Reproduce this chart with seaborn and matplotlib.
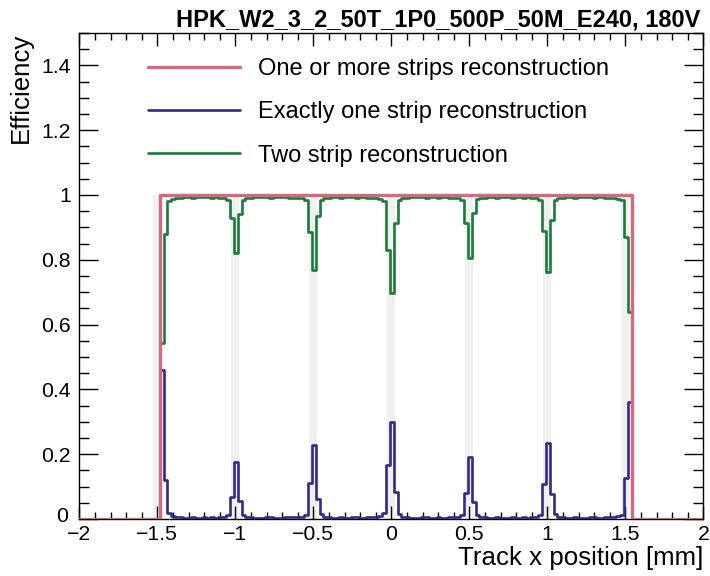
import numpy as np
import pandas as pd
import matplotlib
matplotlib.use("Agg")
import matplotlib.pyplot as plt
import matplotlib.transforms as mtransforms
import seaborn as sns
from matplotlib.ticker import MultipleLocator, FixedLocator, FixedFormatter

sns.set_theme(style="ticks")
plt.rcParams["font.family"] = ["Liberation Sans", "DejaVu Sans"]
plt.rcParams["text.color"] = "black"
plt.rcParams["axes.labelcolor"] = "black"
plt.rcParams["xtick.color"] = "black"
plt.rcParams["ytick.color"] = "black"

# ---------------- data ----------------
title = "HPK_W2_3_2_50T_1P0_500P_50M_E240, 180V"
x_label = "Track x position [mm]"
y_label = "Efficiency"
series_names = ["One or more strips reconstruction",
                "Exactly one strip reconstruction",
                "Two strip reconstruction"]

# histogram binning over the sensor (121 bins of 25 um), zero outside
range_min, range_max = -2.0, 2.0
bin_start = -1.485
bin_width = 0.025
n_bins = 121

# metal strip positions (grey bands) and width [mm]
strip_centers = [-1.5, -1.0, -0.5, 0.0, 0.5, 1.0, 1.5]
strip_width = 0.05

eff_any = [
    1.000, 1.000, 1.000, 0.999, 1.000, 1.000, 0.999, 1.000, 1.000, 1.000,
    1.000, 0.999, 1.000, 1.000, 1.000, 1.000, 0.999, 1.000, 1.000, 1.000,
    1.000, 1.000, 0.999, 1.000, 1.000, 1.000, 1.000, 0.999, 1.000, 1.000,
    1.000, 1.000, 1.000, 0.999, 1.000, 1.000, 1.000, 1.000, 1.000, 1.000,
    1.000, 1.000, 0.999, 1.000, 1.000, 1.000, 1.000, 1.000, 0.999, 1.000,
    1.000, 1.000, 1.000, 0.999, 1.000, 1.000, 1.000, 1.000, 1.000, 1.000,
    1.000, 1.000, 1.000, 1.000, 0.999, 1.000, 1.000, 1.000, 1.000, 0.999,
    1.000, 1.000, 1.000, 1.000, 1.000, 0.999, 1.000, 1.000, 1.000, 1.000,
    1.000, 1.000, 1.000, 0.999, 1.000, 1.000, 1.000, 1.000, 0.999, 1.000,
    1.000, 1.000, 1.000, 1.000, 0.999, 1.000, 1.000, 1.000, 1.000, 1.000,
    1.000, 1.000, 0.999, 1.000, 1.000, 1.000, 1.000, 0.999, 1.000, 1.000,
    1.000, 1.000, 1.000, 0.999, 1.000, 1.000, 1.000, 1.000, 1.000, 1.000,
    1.000,
]

eff_one = [
    0.460, 0.120, 0.018, 0.008, 0.006, 0.005, 0.004, 0.004, 0.005, 0.004,
    0.004, 0.005, 0.004, 0.005, 0.004, 0.005, 0.006, 0.012, 0.069, 0.176,
    0.057, 0.012, 0.007, 0.005, 0.004, 0.004, 0.004, 0.005, 0.005, 0.004,
    0.004, 0.004, 0.005, 0.005, 0.006, 0.006, 0.007, 0.013, 0.112, 0.228,
    0.062, 0.014, 0.007, 0.005, 0.004, 0.004, 0.005, 0.004, 0.004, 0.005,
    0.005, 0.004, 0.004, 0.005, 0.005, 0.006, 0.009, 0.017, 0.167, 0.300,
    0.082, 0.015, 0.007, 0.005, 0.004, 0.004, 0.004, 0.005, 0.005, 0.004,
    0.004, 0.005, 0.004, 0.004, 0.005, 0.006, 0.007, 0.012, 0.080, 0.192,
    0.052, 0.011, 0.007, 0.005, 0.004, 0.004, 0.005, 0.004, 0.004, 0.004,
    0.005, 0.004, 0.004, 0.005, 0.004, 0.005, 0.007, 0.013, 0.108, 0.236,
    0.077, 0.014, 0.007, 0.005, 0.004, 0.004, 0.005, 0.004, 0.004, 0.004,
    0.005, 0.005, 0.004, 0.004, 0.005, 0.005, 0.006, 0.008, 0.013, 0.125,
    0.362,
]

eff_two = [
    0.542, 0.880, 0.980, 0.988, 0.990, 0.992, 0.993, 0.993, 0.992, 0.993,
    0.994, 0.993, 0.993, 0.992, 0.993, 0.992, 0.991, 0.985, 0.928, 0.822,
    0.942, 0.985, 0.990, 0.992, 0.993, 0.993, 0.994, 0.993, 0.992, 0.993,
    0.993, 0.994, 0.993, 0.992, 0.992, 0.991, 0.990, 0.984, 0.885, 0.769,
    0.934, 0.984, 0.990, 0.992, 0.993, 0.993, 0.992, 0.994, 0.993, 0.993,
    0.992, 0.993, 0.993, 0.992, 0.992, 0.991, 0.988, 0.980, 0.830, 0.697,
    0.913, 0.983, 0.990, 0.992, 0.993, 0.993, 0.994, 0.993, 0.992, 0.993,
    0.993, 0.992, 0.993, 0.993, 0.992, 0.991, 0.990, 0.985, 0.913, 0.806,
    0.943, 0.986, 0.990, 0.992, 0.993, 0.993, 0.992, 0.993, 0.994, 0.993,
    0.992, 0.993, 0.993, 0.992, 0.993, 0.992, 0.990, 0.984, 0.890, 0.763,
    0.922, 0.984, 0.990, 0.992, 0.993, 0.993, 0.992, 0.993, 0.993, 0.994,
    0.993, 0.992, 0.993, 0.993, 0.992, 0.992, 0.991, 0.988, 0.984, 0.871,
    0.640,
]

x_ticks = [-2, -1.5, -1, -0.5, 0, 0.5, 1, 1.5, 2]
x_tick_labels = ["\u22122", "\u22121.5", "\u22121", "\u22120.5", "0", "0.5", "1", "1.5", "2"]
y_ticks = [0, 0.2, 0.4, 0.6, 0.8, 1.0, 1.2, 1.4]
y_tick_labels = ["0", "0.2", "0.4", "0.6", "0.8", "1", "1.2", "1.4"]

# ---------------- build histogram table ----------------
inner_edges = bin_start + bin_width * np.arange(n_bins + 1)
edges = [float(e) for e in np.concatenate([[range_min], inner_edges, [range_max]])]
centers = 0.5 * (np.array(edges[:-1]) + np.array(edges[1:]))

def padded(v):
    return np.concatenate([[0.0], np.asarray(v, float), [0.0]])

df = pd.DataFrame({
    "x": np.tile(centers, 3),
    "eff": np.concatenate([padded(eff_any), padded(eff_one), padded(eff_two)]),
    "series": np.repeat(series_names, len(centers)),
})

colors = {series_names[0]: "#d4687d",
          series_names[1]: "#33288c",
          series_names[2]: "#1a7b3a"}
widths = {series_names[0]: 2.4, series_names[1]: 1.9, series_names[2]: 1.9}

# ---------------- figure ----------------
fig = plt.figure(figsize=(7.1, 5.76), dpi=100)
ax = fig.add_axes([0.1117, 0.099, 0.8789, 0.8438])

for c in strip_centers:
    ax.axvspan(c - strip_width / 2, c + strip_width / 2, ymin=0, ymax=1.0 / 1.5,
               color="#f0f0f0", lw=0, zorder=0)

handles = {}
for name in [series_names[2], series_names[1], series_names[0]]:
    sub = df[df["series"] == name]
    sns.histplot(data=sub, x="x", weights="eff", bins=edges, element="step",
                 fill=False, color=colors[name], linewidth=widths[name],
                 ax=ax, label=name, zorder=3)
    handles[name] = ax.get_lines()[-1]

ax.set_xlim(range_min, range_max)
ax.set_ylim(0, 1.5)

ax.xaxis.set_major_locator(FixedLocator(x_ticks))
ax.xaxis.set_major_formatter(FixedFormatter(x_tick_labels))
ax.yaxis.set_major_locator(FixedLocator(y_ticks))
ax.yaxis.set_major_formatter(FixedFormatter(y_tick_labels))
ax.xaxis.set_minor_locator(MultipleLocator(0.1))
ax.yaxis.set_minor_locator(MultipleLocator(0.05))

ax.tick_params(which="both", direction="in", top=True, right=True,
               color="black", width=1.0, labelcolor="black", labelsize=15.3)
ax.tick_params(axis="x", which="major", length=9.4, pad=4)
ax.tick_params(axis="x", which="minor", length=5)
ax.tick_params(axis="y", which="major", length=13.7, pad=6)
ax.tick_params(axis="y", which="minor", length=7.2)
for s in ax.spines.values():
    s.set_visible(True)
    s.set_color("black")
    s.set_linewidth(1.0)

# nudge the y-axis "0" label slightly so it does not collide with "-2"
zero_lbl = ax.yaxis.get_major_ticks()[0].label1
zero_lbl.set_transform(zero_lbl.get_transform() +
                       mtransforms.ScaledTranslation(-2 / 72, 3 / 72, fig.dpi_scale_trans))

ax.set_xlabel(x_label, fontsize=18.6, loc="right", color="black")
ax.set_ylabel(y_label, fontsize=18.6, loc="top", color="black")
ax.xaxis.set_label_coords(1.0, -0.055)
ax.yaxis.set_label_coords(-0.074, 1.0)

fig.text(700 / 710, 1 - 26 / 576, title, ha="right", va="baseline",
         fontsize=17, fontweight="bold", color="black")

leg = ax.legend([handles[n] for n in series_names], series_names,
                loc="upper left", bbox_to_anchor=(0.110, 0.948), frameon=False,
                fontsize=17, handlelength=3.9, handletextpad=0.76,
                labelspacing=0.9, borderaxespad=0, borderpad=0)
for t in leg.get_texts():
    t.set_color("black")

fig.savefig("out.png", dpi=100)
